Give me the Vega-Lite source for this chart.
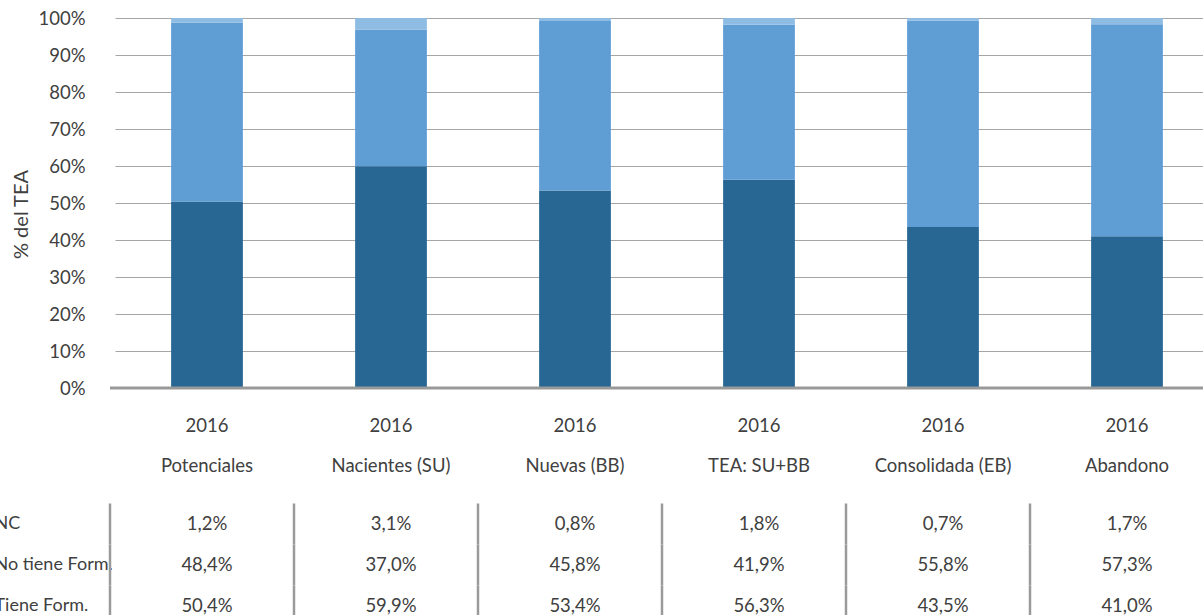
{
  "$schema": "https://vega.github.io/schema/vega-lite/v6.json",
  "width": 1093,
  "height": 370,
  "autosize": {"type": "none"},
  "padding": {"left": 110, "top": 18, "right": 0, "bottom": 227},
  "config": {
    "view": {"stroke": null},
    "font": "Lato",
    "locale": {"number": {"decimal": ",", "thousands": ".", "grouping": [3], "currency": ["", " €"]}},
    "axis": {"labelFont": "Lato", "titleFont": "Lato", "labelColor": "#404040", "titleColor": "#404040", "titleFontWeight": "normal"}
  },
  "data": {"values": [
    {"categoria": "Potenciales", "serie": "Tiene Form.", "valor": 0.504, "orden": 1},
    {"categoria": "Potenciales", "serie": "No tiene Form.", "valor": 0.484, "orden": 2},
    {"categoria": "Potenciales", "serie": "NC", "valor": 0.012, "orden": 3},
    {"categoria": "Nacientes (SU)", "serie": "Tiene Form.", "valor": 0.599, "orden": 1},
    {"categoria": "Nacientes (SU)", "serie": "No tiene Form.", "valor": 0.370, "orden": 2},
    {"categoria": "Nacientes (SU)", "serie": "NC", "valor": 0.031, "orden": 3},
    {"categoria": "Nuevas (BB)", "serie": "Tiene Form.", "valor": 0.534, "orden": 1},
    {"categoria": "Nuevas (BB)", "serie": "No tiene Form.", "valor": 0.458, "orden": 2},
    {"categoria": "Nuevas (BB)", "serie": "NC", "valor": 0.008, "orden": 3},
    {"categoria": "TEA: SU+BB", "serie": "Tiene Form.", "valor": 0.563, "orden": 1},
    {"categoria": "TEA: SU+BB", "serie": "No tiene Form.", "valor": 0.419, "orden": 2},
    {"categoria": "TEA: SU+BB", "serie": "NC", "valor": 0.018, "orden": 3},
    {"categoria": "Consolidada (EB)", "serie": "Tiene Form.", "valor": 0.435, "orden": 1},
    {"categoria": "Consolidada (EB)", "serie": "No tiene Form.", "valor": 0.558, "orden": 2},
    {"categoria": "Consolidada (EB)", "serie": "NC", "valor": 0.007, "orden": 3},
    {"categoria": "Abandono", "serie": "Tiene Form.", "valor": 0.410, "orden": 1},
    {"categoria": "Abandono", "serie": "No tiene Form.", "valor": 0.573, "orden": 2},
    {"categoria": "Abandono", "serie": "NC", "valor": 0.017, "orden": 3}
  ]},
  "encoding": {
    "x": {
      "field": "categoria",
      "type": "nominal",
      "title": null,
      "sort": ["Potenciales", "Nacientes (SU)", "Nuevas (BB)", "TEA: SU+BB", "Consolidada (EB)", "Abandono"],
      "scale": {"range": [5, 1109], "paddingInner": 0, "paddingOuter": 0},
      "axis": {
        "orient": "bottom",
        "labelAngle": 0,
        "labelExpr": "['2016', datum.label]",
        "labelLineHeight": 40,
        "labelPadding": 28,
        "labelFontSize": 18.5,
        "ticks": false,
        "domain": false,
        "grid": false,
        "labelBaseline": "top"
      }
    }
  },
  "layer": [
    {
      "layer": [
        {
          "mark": {"type": "bar", "width": {"band": 0.39}},
          "encoding": {
            "y": {
              "field": "valor",
              "type": "quantitative",
              "stack": "zero",
              "scale": {"domain": [0, 1]},
              "title": "% del TEA",
              "axis": {
                "values": [0, 0.1, 0.2, 0.3, 0.4, 0.5, 0.6, 0.7, 0.8, 0.9, 1],
                "tickCount": 12,
                "labelOverlap": false,
                "format": ".0%",
                "labelFontSize": 18.5,
                "labelPadding": 25,
                "ticks": false,
                "domain": false,
                "grid": true,
                "gridColor": "#a6a6a6",
                "gridWidth": 1,
                "titleFontSize": 20,
                "titleX": -89,
                "titleY": 196,
                "titleAngle": -90,
                "titleAlign": "center",
                "titleBaseline": "middle"
              }
            },
            "color": {
              "field": "serie",
              "type": "nominal",
              "scale": {"domain": ["Tiene Form.", "No tiene Form.", "NC"], "range": ["#286693", "#5f9dd5", "#8fbce3"]},
              "legend": null
            },
            "order": {"field": "orden", "type": "quantitative"}
          }
        },
        {
          "data": {"values": [{"base": 0}]},
          "mark": {"type": "rule", "color": "#999999", "strokeWidth": 3},
          "encoding": {
            "x": null,
            "y": {
              "field": "base",
              "type": "quantitative",
              "title": "% del TEA",
              "axis": {
                "values": [0, 0.1, 0.2, 0.3, 0.4, 0.5, 0.6, 0.7, 0.8, 0.9, 1],
                "tickCount": 12,
                "labelOverlap": false,
                "format": ".0%",
                "labelFontSize": 18.5,
                "labelPadding": 25,
                "ticks": false,
                "domain": false,
                "grid": true,
                "gridColor": "#a6a6a6",
                "gridWidth": 1,
                "titleFontSize": 20,
                "titleX": -89,
                "titleY": 196,
                "titleAngle": -90,
                "titleAlign": "center",
                "titleBaseline": "middle"
              }
            }
          }
        }
      ]
    },
    {
      "layer": [
        {
          "mark": {"type": "tick", "orient": "vertical", "size": 41, "thickness": 2.5, "color": "#9a9a9a", "xOffset": -97, "opacity": 1},
          "encoding": {
            "y": {
              "field": "serie",
              "type": "nominal",
              "sort": ["NC", "No tiene Form.", "Tiene Form."],
              "scale": {"domain": ["NC", "No tiene Form.", "Tiene Form."], "range": [485.5, 608.5], "paddingInner": 0, "paddingOuter": 0},
              "title": null,
              "axis": {
                "orient": "left",
                "labelAlign": "left",
                "labelBaseline": "middle",
                "labelPadding": 116,
                "labelFontSize": 18,
                "ticks": false,
                "domain": false,
                "grid": false
              }
            }
          }
        },
        {
          "mark": {"type": "text", "fontSize": 18.5, "color": "#404040", "baseline": "middle", "font": "Lato"},
          "encoding": {
            "y": {"field": "serie", "type": "nominal", "sort": ["NC", "No tiene Form.", "Tiene Form."]},
            "text": {"field": "valor", "type": "quantitative", "format": ".1%"}
          }
        }
      ]
    }
  ],
  "resolve": {"scale": {"y": "independent"}, "axis": {"y": "independent"}}
}
